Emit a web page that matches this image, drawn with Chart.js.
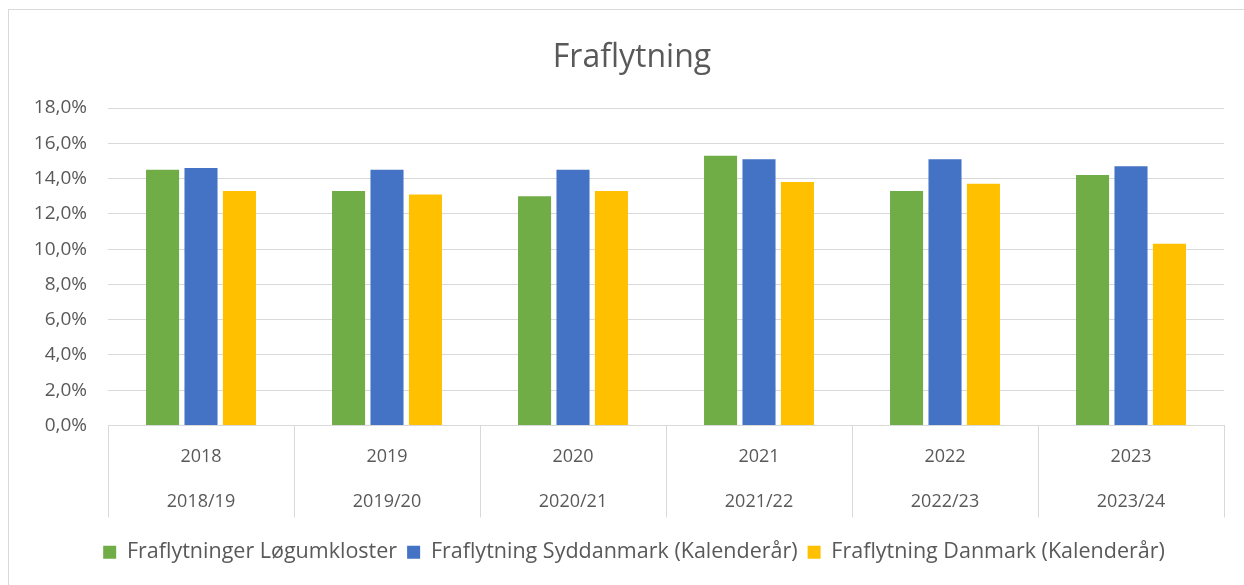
<!DOCTYPE html>
<html>
<head>
<meta charset="utf-8">
<script src="https://cdn.jsdelivr.net/npm/chart.js@4/dist/chart.umd.min.js"></script>
<style>
  body { margin: 0; background: #fff; }
  #wrap { position: absolute; left: 0; top: 0; width: 1244px; height: 585px; }
  #frame { position: absolute; left: 8px; top: 9px; width: 1300px; height: 700px;
           border-top: 1px solid #d9d9d9; border-left: 1px solid #d9d9d9; }
</style>
</head>
<body>
<div id="frame"></div>
<div id="wrap"><canvas id="chart" width="1244" height="585"></canvas></div>
<script>
// Years and school years (two-level category axis)
const years = ["2018", "2019", "2020", "2021", "2022", "2023"];
const schoolYears = ["2018/19", "2019/20", "2020/21", "2021/22", "2022/23", "2023/24"];

// Moving-out rates in percent
const logumkloster = [14.5, 13.3, 13.0, 15.3, 13.3, 14.2];
const syddanmark = [14.6, 14.5, 14.5, 15.1, 15.1, 14.7];
const danmark = [13.3, 13.1, 13.3, 13.8, 13.7, 10.3];

const yTicks = [0, 2, 4, 6, 8, 10, 12, 14, 16, 18];

const textColor = "#595959";
const lineColor = "#d9d9d9";
const fontFamily = "'Open Sans', sans-serif";

const labels = years.map((y, i) => [y, schoolYears[i]]);

// nudge title and legend a bit to the right, like the original
const shiftBoxes = {
  id: "shiftBoxes",
  afterLayout(chart) {
    if (chart.titleBlock) { chart.titleBlock.left += 20; chart.titleBlock.right += 20; }
    if (chart.legend) { chart.legend.left += 22; chart.legend.right += 22; }
  }
};

new Chart(document.getElementById("chart"), {
  type: "bar",
  data: {
    labels: labels,
    datasets: [
      { label: "Fraflytninger Løgumkloster", data: logumkloster, backgroundColor: "#70ad47" },
      { label: "Fraflytning Syddanmark (Kalenderår)", data: syddanmark, backgroundColor: "#4472c4" },
      { label: "Fraflytning Danmark (Kalenderår)", data: danmark, backgroundColor: "#ffc000" }
    ]
  },
  options: {
    responsive: false,
    animation: false,
    categoryPercentage: 0.62,
    barPercentage: 0.86,
    layout: { padding: { top: 0, left: 0, right: 20, bottom: 12 } },
    scales: {
      x: {
        grid: {
          display: true,
          offset: true,
          drawOnChartArea: false,
          drawTicks: true,
          tickLength: 92,
          color: lineColor
        },
        border: { display: true, color: lineColor },
        ticks: {
          color: textColor,
          font: { family: fontFamily, size: 18, lineHeight: 2.5 },
          padding: -83.5,
          maxRotation: 0,
          autoSkip: false
        },
        afterFit: scale => { scale.height = 106; }
      },
      y: {
        min: 0,
        max: 18,
        afterBuildTicks: scale => { scale.ticks = yTicks.map(v => ({ value: v })); },
        grid: { color: lineColor, drawTicks: false },
        border: { display: false },
        ticks: {
          color: textColor,
          font: { family: fontFamily, size: 19 },
          padding: 21,
          callback: v => v.toFixed(1).replace(".", ",") + "%"
        },
        afterFit: scale => { scale.width = 108; }
      }
    },
    plugins: {
      title: {
        display: true,
        text: "Fraflytning",
        color: textColor,
        font: { family: fontFamily, size: 32, weight: "normal", lineHeight: 1.2 },
        padding: { top: 39, bottom: 30.6 }
      },
      legend: {
        position: "bottom",
        labels: {
          color: textColor,
          font: { family: fontFamily, size: 21.5 },
          boxWidth: 13,
          boxHeight: 13,
          padding: 10
        }
      },
      tooltip: { enabled: false }
    }
  },
  plugins: [shiftBoxes]
});
</script>
</body>
</html>
